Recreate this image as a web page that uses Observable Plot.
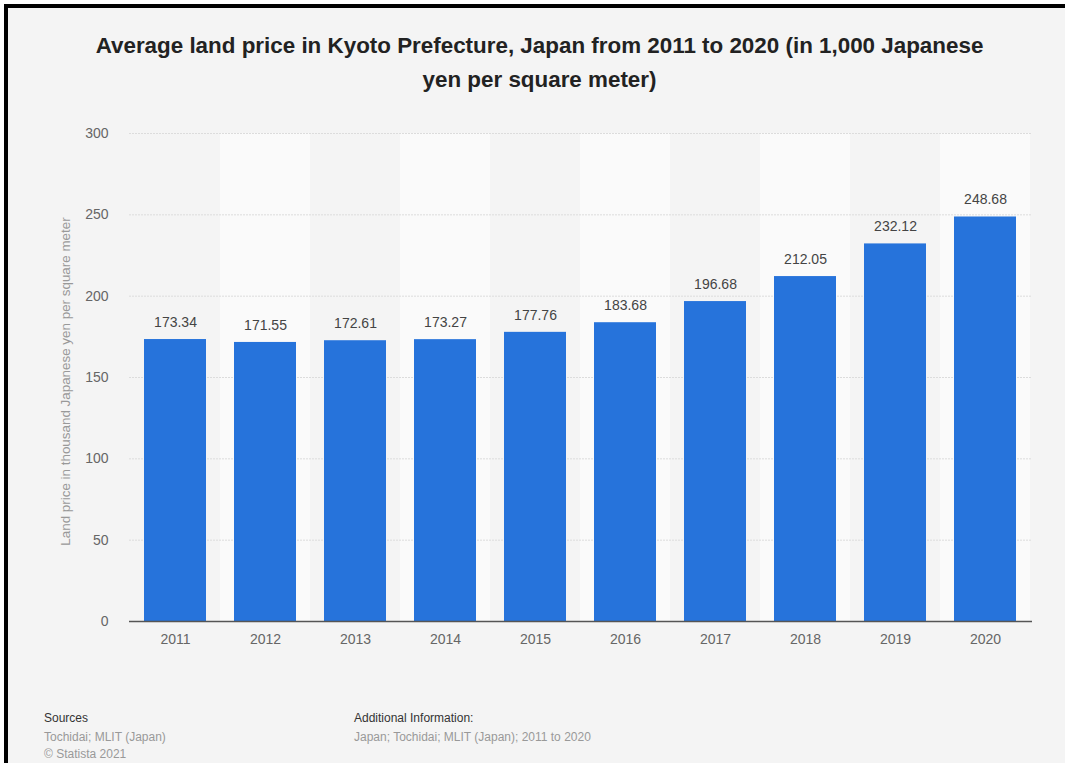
<!DOCTYPE html>
<html><head><meta charset="utf-8">
<script src="https://cdn.jsdelivr.net/npm/d3@7"></script>
<script src="https://cdn.jsdelivr.net/npm/@observablehq/plot@0.6"></script>
<style>
html,body{margin:0;padding:0;background:#fff;width:1065px;height:763px;overflow:hidden;font-family:"Liberation Sans",Arial,Helvetica,sans-serif;}
#frame{position:absolute;left:4px;top:4px;width:1061px;height:759px;box-sizing:border-box;border-left:4px solid #000;border-top:4px solid #000;background:#f4f4f4;}
#title{position:absolute;left:7px;top:29px;width:1065px;text-align:center;font-weight:bold;font-size:22.4px;line-height:34px;color:#222;margin:0;}
#chart{position:absolute;left:0;top:110px;}
.f{position:absolute;font-size:12px;line-height:14px;white-space:nowrap;}
.h{color:#333;}
.g{color:#999;}
</style></head>
<body>
<div id="frame"></div>
<div id="title">Average land price in Kyoto Prefecture, Japan from 2011 to 2020 (in 1,000 Japanese<br>yen per square meter)</div>
<div id="chart"></div>
<div class="f h" style="left:44px;top:711px;">Sources</div>
<div class="f g" style="left:44px;top:730px;">Tochidai; MLIT (Japan)</div>
<div class="f g" style="left:44px;top:747px;">© Statista 2021</div>
<div class="f h" style="left:354px;top:711px;">Additional Information:</div>
<div class="f g" style="left:354px;top:730px;">Japan; Tochidai; MLIT (Japan); 2011 to 2020</div>
<script>
const years = ["2011","2012","2013","2014","2015","2016","2017","2018","2019","2020"];
const prices = [173.34,171.55,172.61,173.27,177.76,183.68,196.68,212.05,232.12,248.68];
const yTicks = [0,50,100,150,200,250,300];
const yTitle = "Land price in thousand Japanese yen per square meter";

const data = years.map((y,i)=>({year:y, price:prices[i]}));
const shaded = years.filter((d,i)=>i%2===1);
const W=1065, ML=129, MR=33;
const pad=0.31;
const step=(W-ML-MR)/years.length;

const chart = Plot.plot({
  width:W, height:560, marginLeft:ML, marginRight:MR, marginTop:23, marginBottom:49,
  style:{background:"transparent", fontFamily:"'Liberation Sans',Arial,Helvetica,sans-serif", fontSize:"14px"},
  x:{domain:years, paddingInner:pad, paddingOuter:pad/2, label:null},
  y:{domain:[0,300], label:null},
  marks:[
    Plot.barY(shaded,{x:d=>d, y1:0, y2:300, fill:"#fafafa", insetLeft:-step*pad/2, insetRight:-step*pad/2}),
    Plot.ruleY(yTicks.filter(t=>t>0),{stroke:"#dcdcdc", strokeDasharray:"2,1"}),
    Plot.barY(data,{x:"year", y:"price", fill:"#2673db"}),
    Plot.ruleY([0],{stroke:"#555", strokeWidth:1.5}),
    Plot.text(data,{x:"year", y:"price", text:d=>d.price.toFixed(2), dy:-17, fill:"#444", fontSize:14}),
    Plot.axisX({tickSize:0, tickPadding:13, fill:"#666", fontSize:14, label:null}),
    Plot.axisY({ticks:yTicks, tickSize:0, tickPadding:21, fill:"#666", fontSize:14, label:null}),
    Plot.text([yTitle],{frameAnchor:"left", textAnchor:"middle", lineAnchor:"middle", rotate:-90, dx:-64, dy:4, fill:"#999", fontSize:13.4})
  ]
});
document.getElementById("chart").appendChild(chart);
</script>
</body></html>
